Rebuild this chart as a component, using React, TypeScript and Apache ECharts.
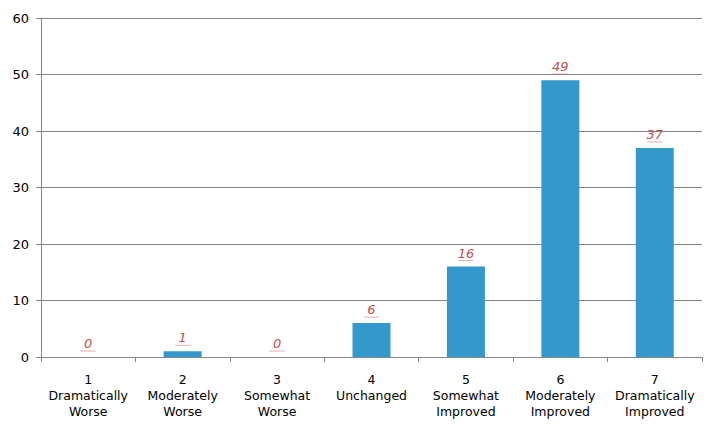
import React, { useEffect, useRef } from "react";
import * as echarts from "echarts";

const categories = [
  "1\nDramatically\nWorse",
  "2\nModerately\nWorse",
  "3\nSomewhat\nWorse",
  "4\nUnchanged",
  "5\nSomewhat\nImproved",
  "6\nModerately\nImproved",
  "7\nDramatically\nImproved",
];
const values = [0, 1, 0, 6, 16, 49, 37];
const yTicks = { min: 0, max: 60, interval: 10 };

export default function App() {
  const ref = useRef<HTMLDivElement>(null);
  useEffect(() => {
    if (!ref.current) return;
    const chart = echarts.init(ref.current, undefined, { renderer: "svg" });
    chart.setOption({
      animation: false,
      backgroundColor: "#ffffff",
      grid: { left: 41, right: 15, top: 18, bottom: 78, containLabel: false },
      xAxis: {
        type: "category",
        data: categories,
        axisLine: { lineStyle: { color: "#868686", width: 1 } },
        axisTick: { show: true, alignWithLabel: false, length: 5, lineStyle: { color: "#868686" } },
        axisLabel: {
          interval: 0,
          margin: 14,
          color: "#000000",
          fontFamily: "Verdana, 'DejaVu Sans', sans-serif",
          fontSize: 12.5,
          lineHeight: 16,
          verticalAlign: "top",
        },
      },
      yAxis: {
        type: "value",
        min: yTicks.min,
        max: yTicks.max,
        interval: yTicks.interval,
        axisLine: { show: true, lineStyle: { color: "#868686", width: 1 } },
        axisTick: { show: true, length: 5, lineStyle: { color: "#868686" } },
        splitLine: { show: true, lineStyle: { color: "#868686", width: 1 } },
        axisLabel: {
          margin: 12,
          color: "#000000",
          fontFamily: "Verdana, 'DejaVu Sans', sans-serif",
          fontSize: 13,
        },
      },
      series: [
        {
          type: "bar",
          data: values,
          barWidth: 38,
          itemStyle: { color: "#3399CC" },
          label: {
            show: true,
            position: "top",
            distance: 5,
            formatter: "{v|{c}}\n{u|}",
            rich: {
              v: {
                color: "#C0504D",
                fontStyle: "italic",
                fontFamily: "Verdana, 'DejaVu Sans', sans-serif",
                fontSize: 13,
                lineHeight: 13,
                align: "center",
              },
              u: {
                width: 15,
                height: 0,
                lineHeight: 2,
                borderColor: "#C0504D",
                borderWidth: 0.5,
                borderType: "dotted",
                align: "center",
              },
            },
          },
        },
      ],
    });
    return () => chart.dispose();
  }, []);
  return <div ref={ref} style={{ width: 717, height: 435, position: "absolute", left: 0, top: 0 }} />;
}
